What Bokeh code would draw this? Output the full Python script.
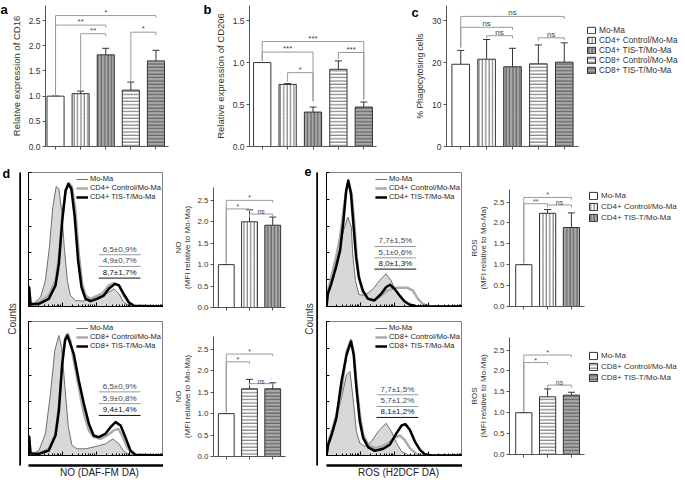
import numpy as np
from bokeh.plotting import figure
from bokeh.models import (ColumnDataSource, Whisker, TeeHead, Legend, LegendItem, Label,
                          FixedTicker, Range1d, NumeralTickFormatter)
from bokeh.layouts import row, column
from bokeh.embed import file_html
from bokeh.resources import INLINE
from bokeh.core.properties import value

# ------------------------------------------------------------------ data
groups_all = ["Mo-Ma", "CD4+ Control/Mo-Ma", "CD4+ TIS-T/Mo-Ma",
              "CD8+ Control/Mo-Ma", "CD8+ TIS-T/Mo-Ma"]
groups_cd4 = ["Mo-Ma", "CD4+ Control/Mo-Ma", "CD4+ TIS-T/Mo-Ma"]
groups_cd8 = ["Mo-Ma", "CD8+ Control/Mo-Ma", "CD8+ TIS-T/Mo-Ma"]

cd16_mean = [1.00, 1.05, 1.82, 1.12, 1.70]
cd16_err = [0.00, 0.05, 0.13, 0.16, 0.21]
cd206_mean = [1.00, 0.74, 0.41, 0.92, 0.47]
cd206_err = [0.00, 0.01, 0.06, 0.10, 0.06]
phago_mean = [19.6, 20.8, 19.0, 19.7, 20.1]
phago_err = [3.3, 4.7, 4.4, 4.5, 4.6]
no_cd4_mean = [1.00, 2.00, 1.92]
no_cd4_err = [0.00, 0.28, 0.19]
no_cd8_mean = [1.00, 1.58, 1.58]
no_cd8_err = [0.00, 0.22, 0.14]
ros_cd4_mean = [1.00, 2.23, 1.89]
ros_cd4_err = [0.00, 0.09, 0.35]
ros_cd8_mean = [1.00, 1.38, 1.42]
ros_cd8_err = [0.00, 0.19, 0.07]

# significance brackets: left bar, right bar, bracket height, left leg end, right leg end, label
cd16_sig = ([0, 0, 1, 3], [4, 2, 2, 4], [2.60, 2.41, 2.24, 2.27],
            [1.03, 1.03, 1.11, 1.28], [2.56, 2.36, 2.19, 2.21], ["*", "**", "**", "*"])
cd206_sig = ([0, 0, 1, 3], [4, 2, 2, 4], [1.25, 1.125, 0.88, 1.12],
             [1.02, 1.02, 0.77, 1.04], [0.56, 0.54, 0.54, 0.56], ["***", "***", "*", "***"])
phago_sig = ([0, 0, 1, 3], [4, 2, 2, 4], [31.0, 28.4, 26.4, 25.9],
             [23.6, 23.6, 25.8, 25.2], [30.4, 27.8, 25.8, 25.3], ["ns", "ns", "ns", "ns"])
no_cd4_sig = ([0, 0, 1], [2, 1, 2], [2.50, 2.30, 2.18], [1.03, 1.03, 2.12], [2.45, 2.25, 2.12], ["*", "*", "ns"])
no_cd8_sig = ([0, 0, 1], [2, 1, 2], [2.39, 2.21, 1.70], [1.03, 1.03, 1.64], [2.34, 2.16, 1.64], ["*", "*", "ns"])
ros_cd4_sig = ([0, 0, 1], [2, 1, 2], [2.61, 2.46, 2.43], [1.03, 1.03, 2.37], [2.56, 2.41, 2.37], ["*", "**", "ns"])
ros_cd8_sig = ([0, 0, 1], [2, 1, 2], [2.38, 2.20, 1.66], [1.03, 1.03, 1.60], [2.33, 2.15, 1.60], ["*", "*", "ns"])

# flow cytometry histograms: x = log10 fluorescence (decades), y = % of max counts
no_cd4_mo_x = [0.0, 0.02, 0.06, 0.16, 0.36, 0.50, 0.62, 0.72, 0.82, 0.90, 0.98, 1.06, 1.15, 1.24, 1.39, 1.64, 1.89, 2.13, 2.38, 2.53, 2.68, 2.82, 2.97, 3.17, 4.0]
no_cd4_mo_y = [0, 15, 3, 2.5, 7.0, 19.4, 44.3, 74.1, 89.6, 87.8, 71.6, 44.3, 19.4, 8.2, 4.5, 4.0, 6.5, 7.5, 10.7, 13.2, 9.5, 3.2, 0.7, 0, 0]
no_cd4_ctl_x = [0.0, 0.02, 0.06, 0.31, 0.60, 0.80, 0.90, 1.00, 1.10, 1.20, 1.29, 1.39, 1.49, 1.59, 1.69, 1.84, 1.99, 2.18, 2.38, 2.53, 2.68, 2.82, 2.97, 3.17, 4.0]
no_cd4_ctl_y = [0, 15, 2, 3.2, 8.2, 19.4, 36.8, 66.7, 86.6, 92.0, 89.1, 71.6, 39.3, 16.9, 8.2, 5.7, 7.5, 9.5, 15.7, 17.4, 15.7, 8.2, 2.5, 0.2, 0]
no_cd4_tis_x = [0.0, 0.02, 0.06, 0.31, 0.60, 0.80, 0.90, 1.00, 1.10, 1.18, 1.27, 1.37, 1.47, 1.57, 1.69, 1.84, 2.03, 2.23, 2.38, 2.56, 2.68, 2.82, 2.97, 3.12, 4.0]
no_cd4_tis_y = [0, 14, 1.5, 2.0, 5.7, 15.7, 31.8, 64.2, 86.6, 91.5, 87.8, 66.7, 34.3, 14.4, 5.7, 4.0, 5.7, 8.2, 13.2, 16.9, 15.7, 9.5, 3.2, 0.5, 0]

no_cd8_mo_x = [0.0, 0.02, 0.06, 0.16, 0.31, 0.50, 0.65, 0.78, 0.90, 0.98, 1.08, 1.18, 1.29, 1.44, 1.69, 1.99, 2.28, 2.50, 2.68, 2.82, 2.97, 3.17, 4.0]
no_cd8_mo_y = [0, 14, 2, 1.7, 3.7, 16.2, 46.0, 78.4, 89.6, 80.8, 51.0, 21.1, 7.5, 5.0, 5.0, 6.7, 8.7, 12.4, 8.7, 3.2, 0.7, 0, 0]
no_cd8_ctl_x = [0.0, 0.02, 0.06, 0.31, 0.60, 0.80, 0.90, 1.00, 1.10, 1.16, 1.24, 1.34, 1.49, 1.64, 1.79, 1.93, 2.13, 2.33, 2.53, 2.66, 2.78, 2.92, 3.07, 3.22, 4.0]
no_cd8_ctl_y = [0, 14, 2, 1.7, 5.0, 16.2, 36.1, 70.9, 88.3, 90.8, 85.8, 70.9, 51.0, 31.1, 18.7, 13.7, 12.4, 14.9, 18.7, 19.9, 14.9, 6.2, 1.7, 0, 0]
no_cd8_tis_x = [0.0, 0.02, 0.06, 0.31, 0.60, 0.80, 0.90, 1.00, 1.08, 1.15, 1.24, 1.34, 1.49, 1.64, 1.79, 1.93, 2.08, 2.28, 2.43, 2.58, 2.73, 2.87, 3.02, 3.17, 4.0]
no_cd8_tis_y = [0, 14, 1.5, 1.2, 3.7, 14.9, 33.6, 68.4, 85.8, 89.6, 83.3, 75.9, 56.0, 38.6, 23.6, 14.9, 13.7, 16.2, 21.1, 24.9, 22.4, 13.7, 3.7, 0.5, 0]

ros_cd4_mo_x = [0.0, 0.04, 0.14, 0.28, 0.40, 0.50, 0.63, 0.73, 0.77, 0.85, 0.95, 1.12, 1.26, 1.41, 1.56, 1.75, 1.90, 2.03, 2.20, 2.39, 2.64, 3.03, 4.0]
ros_cd4_mo_y = [0, 9.5, 19.4, 34.3, 44.3, 56.7, 66.7, 59.2, 39.3, 19.4, 9.0, 8.2, 10.7, 14.4, 19.4, 24.4, 19.4, 11.9, 5.7, 2.0, 0.2, 0, 0]
ros_cd4_ctl_x = [0.0, 0.04, 0.14, 0.28, 0.40, 0.50, 0.58, 0.66, 0.74, 0.82, 0.89, 0.97, 1.07, 1.22, 1.41, 1.61, 1.80, 2.00, 2.20, 2.39, 2.54, 2.69, 2.83, 3.03, 4.0]
ros_cd4_ctl_y = [0, 11.9, 21.9, 36.8, 51.7, 71.6, 86.6, 91.5, 84.1, 61.7, 36.8, 19.4, 10.7, 5.7, 5.0, 8.2, 11.9, 13.9, 13.9, 13.9, 11.9, 5.7, 2.0, 0.2, 0]
ros_cd4_tis_x = [0.0, 0.04, 0.14, 0.28, 0.40, 0.50, 0.58, 0.64, 0.72, 0.79, 0.87, 0.95, 1.07, 1.22, 1.41, 1.61, 1.75, 1.87, 2.00, 2.15, 2.29, 2.44, 2.64, 4.0]
ros_cd4_tis_y = [0, 9.5, 16.9, 29.4, 41.8, 64.2, 86.6, 94.0, 84.1, 61.7, 36.8, 21.9, 11.9, 5.7, 4.5, 9.5, 14.4, 16.2, 13.2, 8.2, 4.0, 1.5, 0.2, 0]

ros_cd8_mo_x = [0.0, 0.05, 0.15, 0.29, 0.44, 0.59, 0.69, 0.78, 0.88, 0.98, 1.13, 1.32, 1.52, 1.75, 1.91, 2.06, 2.21, 2.40, 2.70, 4.0]
ros_cd8_mo_y = [0, 8.0, 17.9, 27.9, 42.8, 60.2, 62.7, 42.8, 17.9, 9.2, 6.7, 10.4, 17.9, 24.1, 17.9, 9.2, 3.0, 0.5, 0, 0]
ros_cd8_ctl_x = [0.0, 0.05, 0.15, 0.29, 0.44, 0.59, 0.72, 0.80, 0.88, 0.98, 1.08, 1.23, 1.42, 1.62, 1.81, 2.01, 2.16, 2.30, 2.45, 2.65, 2.89, 4.0]
ros_cd8_ctl_y = [0, 10.4, 17.9, 30.3, 47.8, 77.6, 86.3, 77.6, 55.2, 30.3, 15.4, 8.0, 5.5, 6.7, 9.2, 13.4, 14.9, 11.7, 5.5, 1.0, 0, 0]
ros_cd8_tis_x = [0.0, 0.05, 0.15, 0.29, 0.44, 0.59, 0.72, 0.80, 0.88, 0.98, 1.08, 1.23, 1.42, 1.67, 1.86, 2.06, 2.21, 2.32, 2.45, 2.60, 2.75, 2.89, 3.09, 4.0]
ros_cd8_tis_y = [0, 8.0, 15.4, 27.9, 55.2, 75.1, 85.1, 75.1, 50.2, 25.4, 12.9, 6.0, 3.5, 5.0, 8.0, 16.7, 22.4, 23.4, 19.2, 10.4, 4.2, 1.0, 0, 0]

# positive gates: (start, end) in decades, marker heights, percentages
no_cd4_gate = (2.08, 3.32)
no_cd4_gate_y = [38.6, 29.9, 21.2]
no_cd4_gate_txt = ["6,5±0,9%", "4,9±0,7%", "8,7±1,7%"]
no_cd8_gate = (2.08, 3.32)
no_cd8_gate_y = [47.5, 38.7, 29.9]
no_cd8_gate_txt = ["6,5±0,9%", "5,9±0,8%", "9,4±1,4%"]
ros_cd4_gate = (1.41, 2.64)
ros_cd4_gate_y = [44.8, 36.3, 27.9]
ros_cd4_gate_txt = ["7,7±1,5%", "5,1±0,6%", "8,0±1,3%"]
ros_cd8_gate = (1.47, 2.70)
ros_cd8_gate_y = [45.3, 36.6, 28.4]
ros_cd8_gate_txt = ["7,7±1,5%", "5,7±1,2%", "8,1±1,2%"]

# ------------------------------------------------------------------ styling / layout helpers
FONT = "Liberation Sans"


def dx(a, b):
    return max(0, int(round(b)) - int(round(a)))


dy = dx

BAR_STYLE = {
    "Mo-Ma": ("white", "blank"),
    "CD4+ Control/Mo-Ma": ("white", "vertical_line"),
    "CD4+ TIS-T/Mo-Ma": ("#a9a9a9", "vertical_line"),
    "CD8+ Control/Mo-Ma": ("white", "horizontal_line"),
    "CD8+ TIS-T/Mo-Ma": ("#a9a9a9", "horizontal_line"),
}


def new_fig(box, frame, xr, yr, **kw):
    L, T, R, B = box
    fl, ft, fr, fb = frame
    p = figure(frame_width=max(1, dx(fl, fr)), frame_height=max(1, dy(ft, fb)),
               min_border_left=dx(L, fl), min_border_right=dx(fr, R),
               min_border_top=dy(T, ft), min_border_bottom=dy(fb, B),
               x_range=Range1d(*xr), y_range=Range1d(*yr),
               output_backend="svg", toolbar_location=None, **kw)
    p.grid.visible = False
    p.outline_line_color = None
    p.background_fill_color = "white"
    p.border_fill_color = "white"
    return p


def add_letter(p, letter, x, y, side, size="13px"):
    p.add_layout(Label(x=x, y=y, x_units="screen", y_units="screen",
                       text=letter, text_font=FONT, text_font_size=size, text_font_style="bold",
                       text_baseline="top", text_align="left", text_color="black"), side)


def hide_labels(ax):
    ax.major_label_text_font_size = "0px"
    ax.major_label_text_color = None
    ax.major_label_standoff = 0


def bar_panel(groups, means, errs, sig, ylabel, yr, yticks, fmt, box, frame, xr,
              ylabel_size="9.5px", star_size="8px", legend=None, tick_size="8.5px", lab_standoff=4):
    p = new_fig(box, frame, xr, yr)
    xs = list(range(len(groups)))
    src = ColumnDataSource(dict(x=xs, top=means, upper=[m + e for m, e in zip(means, errs)],
                                fill=[BAR_STYLE[g][0] for g in groups],
                                hatch=[BAR_STYLE[g][1] for g in groups]))
    r = p.vbar(x="x", top="top", bottom=0, width=0.68, source=src, fill_color="fill",
               line_color="#333333", line_width=1, hatch_pattern="hatch", hatch_color="#3c3c3c",
               hatch_scale=3.4, hatch_weight=0.8)
    p.add_layout(Whisker(base="x", upper="upper", lower="top", source=src, line_color="#333333",
                         line_width=1, upper_head=TeeHead(size=7, line_color="#333333", line_width=1),
                         lower_head=None))
    x1, x2, yb, yl, yrr, lab = sig
    p.multi_line([[a, a, b, b] for a, b in zip(x1, x2)],
                 [[c, y, y, d] for y, c, d in zip(yb, yl, yrr)],
                 line_color="#9a9a9a", line_width=1)
    p.text(x=[(a + b) / 2 for a, b in zip(x1, x2)], y=yb, text=lab, text_align="center",
           text_baseline="bottom", text_font_size=star_size, text_color="#444444",
           text_font=value(FONT), y_offset=1)
    xa = p.xaxis[0]
    xa.ticker = FixedTicker(ticks=xs)
    hide_labels(xa)
    xa.major_tick_out = 3
    xa.major_tick_in = 0
    xa.minor_tick_line_color = None
    ya = p.yaxis[0]
    ya.ticker = FixedTicker(ticks=yticks)
    ya.formatter = NumeralTickFormatter(format=fmt)
    ya.major_tick_out = 3
    ya.major_tick_in = 0
    ya.minor_tick_line_color = None
    ya.major_label_standoff = 2
    ya.major_label_text_font_size = tick_size
    ya.major_label_text_font = FONT
    ya.major_label_text_color = "#333333"
    ya.axis_label = ylabel
    ya.axis_label_text_font = FONT
    ya.axis_label_text_font_size = ylabel_size
    ya.axis_label_text_font_style = "normal"
    ya.axis_label_text_color = "#333333"
    ya.axis_label_text_line_height = 1.0
    ya.axis_label_standoff = lab_standoff
    for ax in (xa, ya):
        ax.axis_line_color = "#555555"
        ax.major_tick_line_color = "#555555"
    if legend is not None:
        font, gh, spacing, loc = legend
        items = [LegendItem(label=g, renderers=[r], index=i) for i, g in enumerate(groups)]
        lg = Legend(items=items, location=loc, margin=0, padding=0, spacing=spacing,
                    glyph_width=10, glyph_height=gh, label_height=gh, label_standoff=3,
                    label_text_font_size=font, label_text_font=FONT, label_text_color="#333333",
                    border_line_color=None, background_fill_alpha=0)
        p.add_layout(lg, "right")
    return p


MINOR_LOG = [d + np.log10(k) for d in range(4) for k in range(2, 10)]


def hist_panel(mo, ctl, tis, labels, gate, gate_y, gate_txt, box, frame):
    p = new_fig(box, frame, (0, 4), (0, 100))
    p.outline_line_color = "#7f7f7f"
    p.outline_line_width = 1
    p.varea(x=mo[0], y1=0, y2=mo[1], fill_color="#d8d8d8")
    r1 = p.line(mo[0], mo[1], line_color="#6f6f6f", line_width=1)
    r2 = p.line(ctl[0], ctl[1], line_color="#ababab", line_width=2.5, line_join="round")
    r3 = p.line(tis[0], tis[1], line_color="black", line_width=2.5, line_join="round")
    lo, hi = gate
    p.segment(x0=[lo] * 3, x1=[hi] * 3, y0=gate_y, y1=gate_y,
              line_color=["#9a9a9a", "#9a9a9a", "#111111"], line_width=1)
    p.text(x=[(lo + hi) / 2] * 3, y=gate_y, text=gate_txt, text_align="center",
           text_baseline="bottom", text_font_size="8px", text_font=value(FONT),
           text_color=["#444444", "#444444", "#111111"], y_offset=-1)
    lg = Legend(items=[LegendItem(label=labels[0], renderers=[r1]),
                       LegendItem(label=labels[1], renderers=[r2]),
                       LegendItem(label=labels[2], renderers=[r3])],
                location="top_right", margin=2, padding=1, spacing=0, glyph_width=12,
                glyph_height=8, label_height=8, label_standoff=2, label_text_font_size="7.5px",
                label_text_font=FONT, label_text_color="#222222", border_line_color=None,
                background_fill_alpha=0)
    p.add_layout(lg, "center")
    xa = p.xaxis[0]
    xa.ticker = FixedTicker(ticks=[0, 1, 2, 3, 4], minor_ticks=MINOR_LOG)
    xa.major_tick_in = 4
    xa.major_tick_out = 0
    xa.minor_tick_in = 2
    xa.minor_tick_out = 0
    xa.minor_tick_line_color = "black"
    ya = p.yaxis[0]
    ya.ticker = FixedTicker(ticks=[0, 20, 40, 60, 80, 100])
    ya.major_tick_in = 3
    ya.major_tick_out = 0
    ya.minor_tick_line_color = None
    for ax in (xa, ya):
        hide_labels(ax)
        ax.axis_line_color = "black"
        ax.major_tick_line_color = "black"
    return p


def counts_panel(box, frame):
    p = new_fig(box, frame, (0, 1), (0, 1), x_axis_location=None)
    ya = p.yaxis[0]
    ya.axis_line_width = 2.5
    ya.axis_line_color = "black"
    ya.major_tick_out = 0
    ya.major_tick_in = 0
    ya.minor_tick_out = 0
    ya.minor_tick_in = 0
    ya.major_tick_line_color = None
    ya.minor_tick_line_color = None
    hide_labels(ya)
    ya.axis_label = "Counts"
    ya.axis_label_text_font = FONT
    ya.axis_label_text_font_size = "10px"
    ya.axis_label_text_font_style = "normal"
    ya.axis_label_text_color = "#333333"
    ya.axis_label_standoff = 3
    return p


def xlabel_panel(text, box, frame):
    p = new_fig(box, frame, (0, 1), (0, 1), y_axis_location=None)
    xa = p.xaxis[0]
    xa.axis_line_width = 2.5
    xa.axis_line_color = "black"
    xa.major_tick_out = 0
    xa.major_tick_in = 0
    xa.minor_tick_out = 0
    xa.minor_tick_in = 0
    xa.major_tick_line_color = None
    xa.minor_tick_line_color = None
    hide_labels(xa)
    xa.axis_label = text
    xa.axis_label_text_font = FONT
    xa.axis_label_text_font_size = "10px"
    xa.axis_label_text_font_style = "normal"
    xa.axis_label_text_color = "#222222"
    xa.axis_label_standoff = 1
    return p


BOT = 478   # bottom edge of the page content
RIGHT = 684  # right edge of the page content

# ------------------------------------------------------------------ top row
fa = bar_panel(groups_all, cd16_mean, cd16_err, cd16_sig, "Relative expression of CD16",
               (0, 2.8), [0, 0.5, 1, 1.5, 2, 2.5], "0.0",
               (0, 0, 193, 158), (42, 5, 165, 146), (-0.4, 4.5))
fb = bar_panel(groups_all, cd206_mean, cd206_err, cd206_sig, "Relative expression of CD206",
               (0, 1.68), [0, 0.5, 1, 1.5], "0.0",
               (193, 0, 378, 158), (246, 5, 373, 146), (-0.5, 4.5))
fc = bar_panel(groups_all, phago_mean, phago_err, phago_sig, "% Phagocytosing cells",
               (0, 33.6), [0, 10, 20, 30], "0",
               (378, 0, RIGHT, 158), (443, 5, 575, 146), (-0.55, 4.55), ylabel_size="8.5px",
               legend=("8.3px", 8, -1, (8, 71)))
add_letter(fa, "a", 0, 146 - 1, "left")
add_letter(fb, "b", 0, 146 - 1, "left")
add_letter(fc, "c", 6, 146 - 4, "left")
top = row(fa, fb, fc)

# ------------------------------------------------------------------ bottom (d)
cd_ = counts_panel((0, 158, 21, BOT), (20, 172, 21, 465))
add_letter(cd_, "d", 2 - 20, 172 - 166, "above", "12.5px")
hd1 = hist_panel((no_cd4_mo_x, no_cd4_mo_y), (no_cd4_ctl_x, no_cd4_ctl_y), (no_cd4_tis_x, no_cd4_tis_y),
                 groups_cd4, no_cd4_gate, no_cd4_gate_y, no_cd4_gate_txt,
                 (21, 158, 163, 313), (28, 172, 163, 306))
hd2 = hist_panel((no_cd8_mo_x, no_cd8_mo_y), (no_cd8_ctl_x, no_cd8_ctl_y), (no_cd8_tis_x, no_cd8_tis_y),
                 groups_cd8, no_cd8_gate, no_cd8_gate_y, no_cd8_gate_txt,
                 (21, 313, 163, 459), (28, 321, 163, 455))
xd = xlabel_panel("NO (DAF-FM DA)", (21, 459, 163, BOT), (21, 464, 163, 465))
bd1 = bar_panel(groups_cd4, no_cd4_mean, no_cd4_err, no_cd4_sig, "NO\n(MFI relative to Mo-Ma)",
                (0, 2.8), [0, 0.5, 1, 1.5, 2, 2.5], "0.0",
                (163, 158, 300, 322), (213, 187, 285, 307), (-0.55, 2.55),
                ylabel_size="8px", star_size="7px", tick_size="8px", lab_standoff=2)
bd2 = bar_panel(groups_cd8, no_cd8_mean, no_cd8_err, no_cd8_sig, "NO\n(MFI relative to Mo-Ma)",
                (0, 2.8), [0, 0.5, 1, 1.5, 2, 2.5], "0.0",
                (163, 322, 300, BOT), (213, 336, 285, 456), (-0.55, 2.55),
                ylabel_size="8px", star_size="7px", tick_size="8px", lab_standoff=2)

# ------------------------------------------------------------------ bottom (e)
ce_ = counts_panel((300, 158, 317, BOT), (316, 172, 317, 465))
add_letter(ce_, "e", 303 - 316, 172 - 166, "above", "12.5px")
he1 = hist_panel((ros_cd4_mo_x, ros_cd4_mo_y), (ros_cd4_ctl_x, ros_cd4_ctl_y), (ros_cd4_tis_x, ros_cd4_tis_y),
                 groups_cd4, ros_cd4_gate, ros_cd4_gate_y, ros_cd4_gate_txt,
                 (317, 158, 461, 313), (325, 172, 461, 306))
he2 = hist_panel((ros_cd8_mo_x, ros_cd8_mo_y), (ros_cd8_ctl_x, ros_cd8_ctl_y), (ros_cd8_tis_x, ros_cd8_tis_y),
                 groups_cd8, ros_cd8_gate, ros_cd8_gate_y, ros_cd8_gate_txt,
                 (317, 313, 461, 459), (325, 321, 461, 455))
xe = xlabel_panel("ROS (H2DCF DA)", (317, 459, 461, BOT), (317, 464, 461, 465))
be1 = bar_panel(groups_cd4, ros_cd4_mean, ros_cd4_err, ros_cd4_sig, "ROS\n(MFI relative to Mo-Ma)",
                (0, 2.8), [0, 0.5, 1, 1.5, 2, 2.5], "0.0",
                (461, 158, RIGHT, 322), (508, 189, 583, 306), (-0.6, 2.55),
                ylabel_size="8px", star_size="7px", tick_size="8px", lab_standoff=2,
                legend=("8px", 9, 2, (4, 84)))
be2 = bar_panel(groups_cd8, ros_cd8_mean, ros_cd8_err, ros_cd8_sig, "ROS\n(MFI relative to Mo-Ma)",
                (0, 2.8), [0, 0.5, 1, 1.5, 2, 2.5], "0.0",
                (461, 322, RIGHT, BOT), (508, 337, 583, 454), (-0.6, 2.55),
                ylabel_size="8px", star_size="7px", tick_size="8px", lab_standoff=2,
                legend=("8px", 9, 2, (4, 72)))

bottom = row(cd_, column(hd1, hd2, xd), column(bd1, bd2),
             ce_, column(he1, he2, xe), column(be1, be2))
page = column(top, bottom)

open("out.html", "w").write(file_html(page, INLINE))
